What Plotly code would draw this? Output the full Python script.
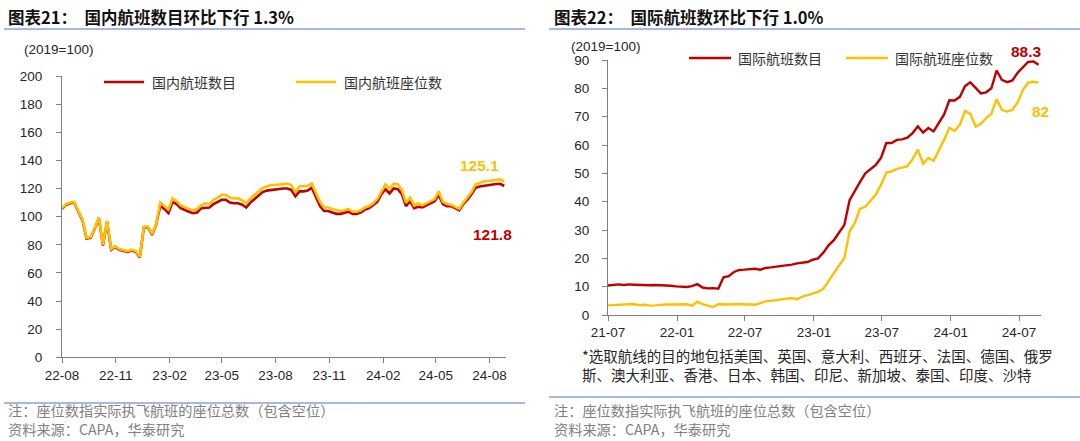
import plotly.graph_objects as go
import pandas as pd

W, H = 1080, 441

# ---------------- data ----------------
# Left chart: domestic, weekly from 2022-08-01 (2019=100)
dom_start = "2022-08-01"
dom_seats = [106, 109, 110, 110.5, 104, 98, 85, 85.5, 92, 99.5,
             80, 97, 77, 79, 77, 76, 75.5, 76.5, 75.5, 71.5,
             93, 93, 87.5, 95, 110, 107.5, 105, 113, 111, 108,
             106.5, 105.5, 104.5, 105.5, 108, 109.5, 109, 112, 113.5, 115.5,
             115.5, 113.5, 113, 113, 111.5, 109.5, 113, 115.5, 118, 120.5,
             121.5, 122.5, 122.5, 123, 123.5, 123.5, 122.5, 117.5, 121.5, 121.5,
             122, 123.5, 116.5, 110.5, 106.5, 106.5, 105.5, 104.5, 104, 104.5,
             105.5, 103.5, 103.5, 104.5, 106.5, 107.5, 109.5, 112.5, 118, 123,
             120, 123.5, 123, 119, 110, 113.5, 108, 109.5, 108, 109.5,
             111, 112.5, 118, 110.5, 109, 108.5, 107, 105.5, 110, 113.5,
             117.5, 123, 124, 125, 125.3, 125.8, 126.3, 126.5, 125.1]
dom_flights = [105.5, 108.5, 109.5, 110, 103.5, 97.5, 84.5, 85, 91.5, 99,
               79.5, 96.5, 76.5, 78.5, 76.5, 75.5, 75, 76, 75, 71,
               92.5, 92.5, 87, 94.5, 108, 105.5, 102.5, 110.5, 109, 106,
               104.5, 103.5, 102.5, 103, 106, 106.5, 106.5, 109, 110.5, 112,
               112, 110, 109.5, 109.5, 108.5, 106.5, 110, 112.5, 115, 117.5,
               118.5, 119, 119, 119.5, 120, 120, 119, 114.5, 118, 118,
               118.5, 120.5, 113.5, 107.5, 104, 104, 103, 102, 102, 102.5,
               103.5, 102, 102, 103, 105, 106, 108, 110.5, 116, 119.5,
               116.5, 120, 119.5, 116, 107.5, 111, 106, 107, 106.5, 108,
               109.5, 111, 115.5, 109, 107.5, 107.5, 106, 104.5, 109, 112,
               116, 120.5, 121.5, 122, 122.2, 122.8, 123.2, 123.3, 121.8]

# Right chart: international, bi-weekly from 2021-07-01 (2019=100)
intl_start = "2021-07-01"
intl_flights = [10.4, 10.7, 10.8, 10.6, 10.8, 10.7, 10.6, 10.7, 10.5, 10.6,
                10.5, 10.6, 10.3, 10.1, 10.0, 9.9, 10.2, 10.9, 9.7, 9.4,
                9.5, 9.3, 13.3, 13.7, 15.2, 15.9, 16.0, 16.2, 16.3, 16.0,
                16.6, 16.8, 17.0, 17.2, 17.5, 17.8, 18.2, 18.5, 18.7, 19.5,
                20.0, 22.0, 24.6, 26.4, 28.9, 31.8, 40.5, 44.0, 47.0, 50.0,
                51.5, 53.0, 55.5, 60.7, 60.7, 61.8, 62.0, 62.6, 64.2, 66.6,
                64.4, 66.0, 64.8, 67.6, 70.8, 75.8, 75.7, 77.0, 80.8, 82.1,
                80.0, 78.2, 78.6, 80.0, 86.3, 83.0, 82.2, 82.8, 85.5, 87.6,
                89.3, 89.5, 88.3]
intl_seats = [3.4, 3.5, 3.6, 3.9, 3.8, 3.8, 3.5, 3.6, 3.3, 3.4,
              3.6, 3.7, 3.7, 3.8, 3.7, 3.8, 3.3, 4.7, 3.8, 3.2,
              2.8, 3.8, 3.7, 3.7, 3.8, 3.9, 3.7, 3.8, 3.6, 4.2,
              4.8, 5.0, 5.3, 5.5, 5.7, 6.0, 5.6, 6.5, 7.0, 7.5,
              8.2, 9.2, 12.0, 15.0, 17.5, 20.0, 29.5, 32.5, 37.5, 38.2,
              40.3, 42.5, 46.0, 50.3, 50.7, 51.6, 52.0, 52.5, 55.0, 58.4,
              53.4, 55.4, 54.4, 58.0, 61.8, 66.0, 65.0, 67.1, 72.0, 71.0,
              66.5, 67.5, 69.5, 71.0, 76.2, 72.4, 71.8, 72.4, 75.0, 79.5,
              82.0, 82.3, 82.0]

dom_names = ["国内航班数目", "国内航班座位数"]
intl_names = ["国际航班数目", "国际航班座位数"]
titles = ["图表21：  国内航班数目环比下行 1.3%", "图表22：  国际航班数环比下行 1.0%"]
unit_label = "(2019=100)"
note1 = "注：座位数指实际执飞航班的座位总数（包含空位）"
note2 = "资料来源：CAPA，华泰研究"
foot1 = "*选取航线的目的地包括美国、英国、意大利、西班牙、法国、德国、俄罗"
foot2 = "斯、澳大利亚、香港、日本、韩国、印尼、新加坡、泰国、印度、沙特"

dom_dates = pd.date_range(dom_start, periods=len(dom_seats), freq="7D")
intl_dates = pd.date_range(intl_start, periods=len(intl_flights), freq="14D")

# ---------------- style ----------------
RED = "#C00000"
YEL = "#FFC000"
AXC = "#7f7f7f"
BLUE = "#8aa2c8"
LAT = "Liberation Sans, Arial, Noto Sans CJK SC"
CJK = "Noto Sans CJK SC, Liberation Sans"


def fx(x):
    return x / W


def fy(y):
    return 1 - y / H


fig = go.Figure()
fig.add_trace(go.Scatter(x=dom_dates, y=dom_flights, mode="lines", name=dom_names[0],
                         line=dict(color=RED, width=2.6), xaxis="x", yaxis="y"))
fig.add_trace(go.Scatter(x=dom_dates, y=dom_seats, mode="lines", name=dom_names[1],
                         line=dict(color=YEL, width=2.6), xaxis="x", yaxis="y"))
fig.add_trace(go.Scatter(x=intl_dates, y=intl_flights, mode="lines", name=intl_names[0],
                         line=dict(color=RED, width=2.4), xaxis="x2", yaxis="y2"))
fig.add_trace(go.Scatter(x=intl_dates, y=intl_seats, mode="lines", name=intl_names[1],
                         line=dict(color=YEL, width=2.4), xaxis="x2", yaxis="y2"))

tickfont = dict(family=LAT, size=13.5, color="#262626")
common_axis = dict(showline=True, linecolor=AXC, linewidth=1, ticks="outside",
                   ticklen=5, tickcolor=AXC, tickwidth=1, showgrid=False,
                   zeroline=False, tickfont=tickfont, automargin=False)

fig.update_layout(
    width=W, height=H,
    autosize=False,
    margin=dict(l=0, r=0, t=0, b=0, pad=0, autoexpand=False),
    paper_bgcolor="white", plot_bgcolor="white",
    showlegend=False,
    xaxis=dict(domain=[fx(62), fx(506)], type="date",
               range=["2022-08-01", "2024-08-29"],
               tick0="2022-08-01", dtick="M3", tickformat="%y-%m",
               anchor="y", **common_axis),
    yaxis=dict(domain=[fy(357.3), fy(76)], range=[0, 200], dtick=20,
               anchor="x", ticklabelstandoff=11, **common_axis),
    xaxis2=dict(domain=[fx(608), fx(1040.5)], type="date",
                range=["2021-07-01", "2024-08-27"],
                tick0="2021-07-01", dtick="M6", tickformat="%y-%m",
                anchor="y2", **common_axis),
    yaxis2=dict(domain=[fy(315), fy(60)], range=[0, 90], dtick=10,
                anchor="x2", ticklabelstandoff=10, **common_axis),
)

shapes = []
annos = []


def hline(x0, x1, y, color, width):
    shapes.append(dict(type="line", xref="paper", yref="paper",
                       x0=fx(x0), x1=fx(x1), y0=fy(y), y1=fy(y),
                       line=dict(color=color, width=width)))


def text(x, y, s, size, color, family=CJK, bold=False, anchor="left"):
    if bold:
        s = "<b>" + s + "</b>"
    annos.append(dict(x=fx(x), y=fy(y), xref="paper", yref="paper", text=s,
                      showarrow=False, xanchor=anchor, yanchor="middle",
                      font=dict(family=family, size=size, color=color)))


# titles and header lines
text(6, 17, titles[0], 16.5, "#111111", family=CJK, bold=True)
text(552, 17, titles[1], 16.5, "#111111", family=CJK, bold=True)
hline(4, 525, 29, BLUE, 1.6)
hline(549, 1080, 29, BLUE, 1.6)

# unit labels
text(22, 50, unit_label, 13.5, "#262626", family=LAT)
text(569, 46.5, unit_label, 13.5, "#262626", family=LAT)

# legends (left)
hline(104, 144, 82, RED, 2.6)
text(150, 82, dom_names[0], 14, "#333333")
hline(296, 336, 82, YEL, 2.6)
text(342, 82, dom_names[1], 14, "#333333")
# legends (right)
hline(689, 731, 58, RED, 2.4)
text(736, 58, intl_names[0], 14, "#333333")
hline(846, 888, 58, YEL, 2.4)
text(893, 58, intl_names[1], 14, "#333333")

# end-value labels
text(479, 165, f"{dom_seats[-1]:.1f}", 15.5, YEL, family=LAT, bold=True, anchor="center")
text(492, 235, f"{dom_flights[-1]:.1f}", 15.5, RED, family=LAT, bold=True, anchor="center")
text(1026, 51, f"{intl_flights[-1]:.1f}", 15.5, RED, family=LAT, bold=True, anchor="center")
text(1040, 111, f"{intl_seats[-1]:g}", 15.5, YEL, family=LAT, bold=True, anchor="center")

# right footnote
text(580, 355, foot1, 14.5, "#262626")
text(580, 374, foot2, 14.5, "#262626")

# bottom separators and notes
hline(4, 525, 403, BLUE, 1.6)
hline(549, 1080, 397, BLUE, 1.6)
text(6, 410, note1, 14.2, "#808080")
text(6, 429, note2, 14.2, "#808080")
text(552, 410, note1, 14.2, "#808080")
text(552, 429, note2, 14.2, "#808080")

fig.update_layout(shapes=shapes, annotations=annos)
fig.write_html(
    "out.html",
    post_script="document.body.style.margin='0px';document.body.style.padding='0px';"
                "document.body.style.overflow='hidden';",
)
